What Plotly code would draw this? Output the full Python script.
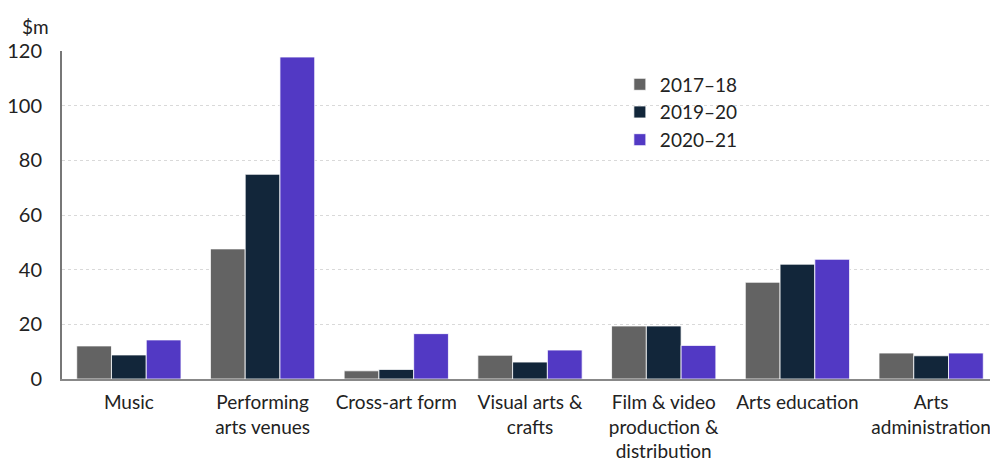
import plotly.graph_objects as go

categories = ["Music", "Performing<br>arts venues", "Cross-art form", "Visual arts &<br>crafts",
              "Film & video<br>production &<br>distribution", "Arts education", "Arts<br>administration"]
series_names = ["2017–18", "2019–20", "2020–21"]
v_2017 = [12.1, 47.6, 3.0, 8.7, 19.4, 35.4, 9.5]
v_2019 = [8.8, 74.9, 3.5, 6.2, 19.4, 42.0, 8.5]
v_2020 = [14.3, 117.8, 16.6, 10.6, 12.3, 43.8, 9.5]
colors = ["#636363", "#12263A", "#5239C4"]
y_ticks = [0, 20, 40, 60, 80, 100, 120]

FONT = "Lato"
fig = go.Figure()
for name, vals, c in zip(series_names, [v_2017, v_2019, v_2020], colors):
    fig.add_trace(go.Bar(x=categories, y=vals, name=name, marker=dict(color=c, line=dict(color="white", width=0.8))))

# page body has an 8px default margin, so the figure is 8px smaller than the window
fig.update_layout(
    width=990, height=459,
    margin=dict(l=54, r=0, t=43, b=88),
    paper_bgcolor="white", plot_bgcolor="white",
    barmode="group", bargap=0.22, bargroupgap=0.0,
    font=dict(family=FONT, size=20, color="#222222"),
    legend=dict(x=0.596, y=0.956, xanchor="left", yanchor="top", bgcolor="rgba(0,0,0,0)",
                font=dict(size=19), itemwidth=30, tracegroupgap=0),
    xaxis=dict(showline=True, linecolor="#888888", linewidth=2, ticks="", tickfont=dict(size=19),
               automargin=False, ticklabelstandoff=5),
    yaxis=dict(range=[0, 120], tickvals=y_ticks, showgrid=True, gridcolor="#d9d9d9", griddash="dot",
               showline=True, linecolor="#777777", linewidth=2, zeroline=False, ticks="",
               tickfont=dict(size=20), ticklabelstandoff=14, automargin=False),
    annotations=[dict(text="$m", xref="paper", yref="paper", x=-0.028, y=1.035, xanchor="center",
                      yanchor="bottom", showarrow=False, font=dict(size=19))],
)
fig.write_html("out.html")
